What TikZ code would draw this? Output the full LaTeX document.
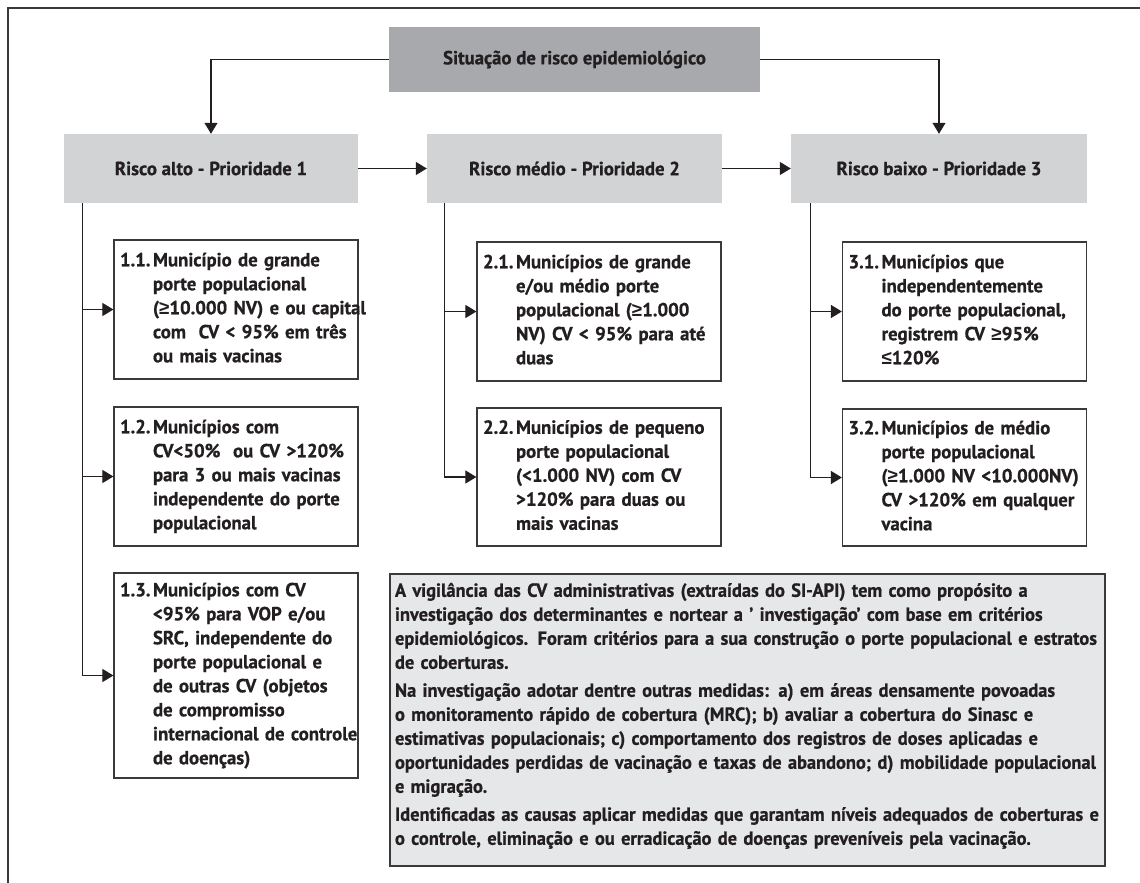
\documentclass[tikz,border=0pt]{standalone}
\usepackage{fontspec}
% calibrate horizontal stretch so that body text matches the reference widths
\newfontfamily\probefont{PT Sans}
\newsavebox\probebox
\sbox\probebox{\probefont\bfseries\fontsize{19}{24}\selectfont internacional de controle}
\edef\stretchval{\fpeval{round(201pt/(\the\wd\probebox),3)}}
\edef\notestretch{\fpeval{round(0.982*\stretchval,3)}}
\edef\setfonts{\noexpand\setmainfont{PT Sans}[FakeStretch=\stretchval,FakeBold=0.7]}\setfonts
\edef\setnote{\noexpand\newfontfamily\noexpand\notefont{PT Sans}[FakeStretch=\notestretch,FakeBold=0.7]}\setnote
\edef\setsym{\noexpand\newfontfamily\noexpand\symfont{Liberation Sans}[FakeStretch=\stretchval]}\setsym
\newcommand\gesym{{\symfont ≥}}
\newcommand\lesym{{\symfont ≤}}
\usetikzlibrary{arrows.meta}
\definecolor{ink}{HTML}{231F20}
\definecolor{topgray}{HTML}{A7A9AC}
\definecolor{riskgray}{HTML}{D1D3D4}
\definecolor{notegray}{HTML}{E6E7E8}
\definecolor{edge}{HTML}{3A3A3A}
\newcommand\lbltext[2]{\begin{tabular}{@{}p{33pt}@{}l@{}}#1&#2\end{tabular}}
\begin{document}
\begin{tikzpicture}[x=1pt,y=-1pt,
  every node/.style={font=\fontsize{19}{24}\selectfont\bfseries, text=ink, inner sep=0pt},
  headbox/.style={fill=topgray, minimum width=371pt, minimum height=65pt},
  riskbox/.style={fill=riskgray, minimum height=69pt},
  subbox/.style={draw=edge, line width=1.2pt, fill=white, minimum width=244pt, text width=232pt, align=left},
  notebox/.style={draw=edge, line width=1.2pt, fill=notegray, minimum width=715pt, minimum height=292pt, text width=705pt, align=left, font=\notefont\fontsize{19}{24}\selectfont\bfseries},
  conn/.style={draw=ink, line width=1.1pt},
  arr/.style={conn, -{Triangle[length=11pt,width=13pt]}},
  frame/.style={draw=edge, line width=1.6pt}
]
\useasboundingbox (0,0) rectangle (1140,883);
% outer frame
\coordinate (fb) at (8,883);
\coordinate (fc) at (8,8);
\coordinate (fr) at (1140,8);
\draw[frame] (fb) -- (fc) -- (fr);

% header and risk levels
\node[headbox] (top) at (574.5,59.5) {Situação de risco epidemiológico};
\node[riskbox, minimum width=294pt] (r1) at (211,168.5) {Risco alto - Prioridade 1};
\node[riskbox, minimum width=295pt] (r2) at (574.5,168.5) {Risco médio - Prioridade 2};
\node[riskbox, minimum width=296pt] (r3) at (939,168.5) {Risco baixo - Prioridade 3};

% sub boxes
\node[subbox, minimum height=139pt] (s11) at (236,309.5) {\lbltext{1.1.}{Município de grande\\&porte populacional\\&(\gesym10.000 NV) e ou capital\\&com~ CV < 95\% em três\\&ou mais vacinas}};
\node[subbox, minimum height=139pt] (s12) at (236,476.5) {\lbltext{1.2.}{Municípios com\\&CV<50\%~ ou CV >120\%\\&para 3 ou mais vacinas\\&independente do porte\\&populacional}};
\node[subbox, minimum height=205pt] (s13) at (236,675.5) {\lbltext{1.3.}{Municípios com CV\\&<95\% para VOP e/ou\\&SRC, independente do\\&porte populacional e\\&de outras CV (objetos\\&de compromisso\\&internacional de controle\\&de doenças)}};

\node[subbox, minimum height=139pt] (s21) at (599,311.5) {\lbltext{2.1.}{Municípios de grande\\&e/ou médio porte\\&populacional (\gesym1.000\\&NV) CV < 95\% para até\\&duas}};
\node[subbox, minimum height=138pt] (s22) at (599,477) {\lbltext{2.2.}{Municípios de pequeno\\&porte populacional\\&(<1.000 NV) com CV\\&>120\% para duas ou\\&mais vacinas}};

\node[subbox, minimum height=139pt] (s31) at (964.5,311.5) {\lbltext{3.1.}{Municípios que\\&independentemente\\&do porte populacional,\\&registrem CV \gesym95\%\\&\lesym120\%}};
\node[subbox, minimum height=137pt] (s32) at (964.5,477.5) {\lbltext{3.2.}{Municípios de médio\\&porte populacional\\&(\gesym1.000 NV <10.000NV)\\&CV >120\% em qualquer\\&vacina}};

% note
\node[notebox] (note) at (747.5,720) {\begin{tabular}{@{}l@{}}
A vigilância das CV administrativas (extraídas do SI-API) tem como propósito a\\
investigação dos determinantes e nortear a ’ investigação’ com base em critérios\\
epidemiológicos. Foram critérios para a sua construção o porte populacional e estratos\\
de coberturas.\\[4pt]
Na investigação adotar dentre outras medidas: a) em áreas densamente povoadas\\
o monitoramento rápido de cobertura (MRC); b) avaliar a cobertura do Sinasc e\\
estimativas populacionais; c) comportamento dos registros de doses aplicadas e\\
oportunidades perdidas de vacinação e taxas de abandono; d) mobilidade populacional\\
e migração.\\[4pt]
Identificadas as causas aplicar medidas que garantam níveis adequados de coberturas e\\
o controle, eliminação e ou erradicação de doenças preveníveis pela vacinação.\\[8pt]
\end{tabular}};

% connectors
\draw[arr] (top.west) -| (r1.north);
\draw[arr] (top.east) -| (r3.north);
\draw[arr] (r1.east) -- (r2.west);
\draw[arr] (r2.east) -- (r3.west);

\coordinate (v1) at ([xshift=19pt]r1.south west);
\coordinate (v2) at ([xshift=18pt]r2.south west);
\coordinate (v3) at ([xshift=20pt]r3.south west);

\draw[arr] (v1) |- (s13.west);
\draw[arr] (v1 |- s11.west) -- (s11.west);
\draw[arr] (v1 |- s12.west) -- (s12.west);

\draw[arr] (v2) |- (s22.west);
\draw[arr] (v2 |- s21.west) -- (s21.west);

\draw[arr] (v3) |- (s32.west);
\draw[arr] (v3 |- s31.west) -- (s31.west);
\end{tikzpicture}
\end{document}
